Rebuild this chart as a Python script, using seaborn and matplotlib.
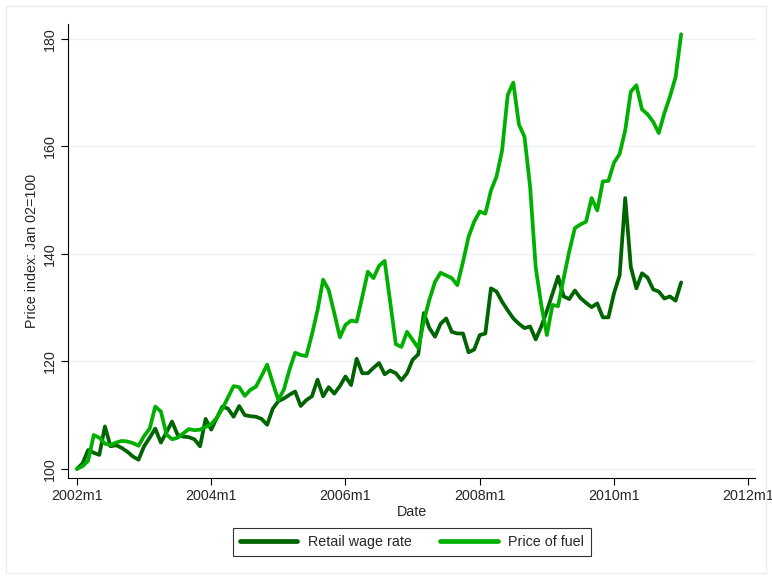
import matplotlib
matplotlib.use("Agg")
import matplotlib.pyplot as plt
import seaborn as sns
import pandas as pd
import numpy as np

# Monthly indices, 2002m1 .. 2011m1 (Jan 2002 = 100)
wage = [
    100.0, 101.0, 103.5, 103.0, 102.6, 107.9, 104.2, 104.4, 103.9, 103.2, 102.3, 101.7,
    104.2, 105.8, 107.5, 104.9, 106.8, 108.8, 106.3, 106.0, 105.9, 105.5, 104.2, 109.3,
    107.3, 109.5, 111.6, 111.2, 109.7, 111.7, 110.0, 109.8, 109.7, 109.3, 108.2, 111.2,
    112.6, 113.1, 113.8, 114.4, 111.7, 112.8, 113.5, 116.6, 113.5, 115.2, 114.0, 115.4,
    117.2, 115.6, 120.5, 117.8, 117.8, 118.8, 119.7, 117.6, 118.3, 117.8, 116.5, 117.8,
    120.3, 121.3, 129.0, 126.2, 124.6, 127.0, 128.0, 125.5, 125.2, 125.2, 121.7, 122.2,
    124.9, 125.2, 133.6, 133.0, 131.1, 129.5, 128.0, 127.0, 126.2, 126.5, 124.1, 126.5,
    129.4, 132.6, 135.8, 132.1, 131.6, 133.2, 131.8, 130.9, 130.1, 130.8, 128.2, 128.2,
    132.7, 136.0, 150.4, 137.6, 133.6, 136.4, 135.6, 133.4, 133.0, 131.7, 132.1, 131.3,
    134.7,
]
fuel = [
    100.0, 100.5, 101.5, 106.3, 105.8, 104.7, 104.4, 104.9, 105.2, 105.1, 104.8, 104.3,
    106.1, 107.5, 111.6, 110.7, 106.4, 105.5, 105.8, 106.6, 107.4, 107.2, 107.3, 107.8,
    108.3, 109.5, 111.2, 113.3, 115.4, 115.2, 113.6, 114.7, 115.3, 117.3, 119.4, 116.0,
    112.8, 114.8, 118.5, 121.6, 121.2, 121.0, 125.0, 129.5, 135.2, 133.3, 129.0, 124.5,
    126.8, 127.6, 127.4, 132.0, 136.7, 135.5, 137.8, 138.7, 131.0, 123.2, 122.7, 125.5,
    124.0, 122.5, 127.5, 131.5, 134.8, 136.5, 136.0, 135.5, 134.2, 138.5, 143.2, 146.0,
    147.9, 147.5, 151.8, 154.4, 159.3, 169.6, 171.9, 164.1, 161.8, 152.5, 137.5, 130.5,
    124.9, 130.5, 130.3, 135.5, 140.5, 144.8, 145.5, 146.0, 150.4, 148.1, 153.5, 153.6,
    157.0, 158.6, 163.0, 170.2, 171.4, 166.9, 166.0, 164.6, 162.5, 166.2, 169.3, 172.9,
    180.9,
]
series_names = ["Retail wage rate", "Price of fuel"]
series_colors = ["#006400", "#00B000"]
x_tick_labels = ["2002m1", "2004m1", "2006m1", "2008m1", "2010m1", "2012m1"]
y_ticks = [100, 120, 140, 160, 180]

months = np.arange(len(wage))
df = pd.DataFrame({
    "month": np.concatenate([months, months]),
    "value": wage + fuel,
    "series": [series_names[0]] * len(wage) + [series_names[1]] * len(fuel),
})

sns.set_theme(style="white")
plt.rcParams["font.family"] = ["Liberation Sans", "DejaVu Sans"]

FS = 10.3

fig = plt.figure(figsize=(7.72, 5.78), dpi=100)
ax = fig.add_axes([68 / 772, 1 - 478 / 578, (755 - 68) / 772, (478 - 24) / 578])

sns.lineplot(data=df, x="month", y="value", hue="series",
             palette=dict(zip(series_names, series_colors)),
             linewidth=2.7, ax=ax, legend=False)

ax.set_xlim(-1.6, 121.2)
ax.set_ylim(98.3, 182.8)

ax.set_xticks(np.arange(0, 121, 24))
ax.set_xticklabels(x_tick_labels, fontsize=FS)
ax.set_yticks(y_ticks)
ax.set_yticklabels([str(v) for v in y_ticks], fontsize=FS, rotation=90, va="center")

for v in y_ticks:
    ax.axhline(v, color="#EAF2F3", linewidth=1.0, zorder=0)

ax.tick_params(axis="both", direction="out", length=5, width=0.8, color="black",
               bottom=True, left=True, pad=3)
for side in ["top", "right"]:
    ax.spines[side].set_visible(False)
for side in ["left", "bottom"]:
    ax.spines[side].set_color("black")
    ax.spines[side].set_linewidth(0.8)

ax.set_xlabel("Date", fontsize=FS, labelpad=1)
ax.set_ylabel("Price index: Jan 02=100", fontsize=FS, labelpad=3)

handles = [plt.Line2D([0], [0], color=c, linewidth=3.4) for c in series_colors]
leg = fig.legend(handles, series_names, loc="center", ncol=2,
                 bbox_to_anchor=(412 / 772, 1 - 542 / 578), frameon=True,
                 fontsize=FS, handlelength=4.0, columnspacing=2.0,
                 handletextpad=0.75, borderpad=0.5, fancybox=False)
leg.get_frame().set_edgecolor("black")
leg.get_frame().set_linewidth(0.8)

# light frame around the graph region
fig.patches.append(plt.Rectangle((6 / 772, 5 / 578), 760 / 772, 567 / 578,
                                 transform=fig.transFigure, fill=False,
                                 edgecolor="#E6EEF0", linewidth=1.0))

fig.savefig("out.png", dpi=100)
